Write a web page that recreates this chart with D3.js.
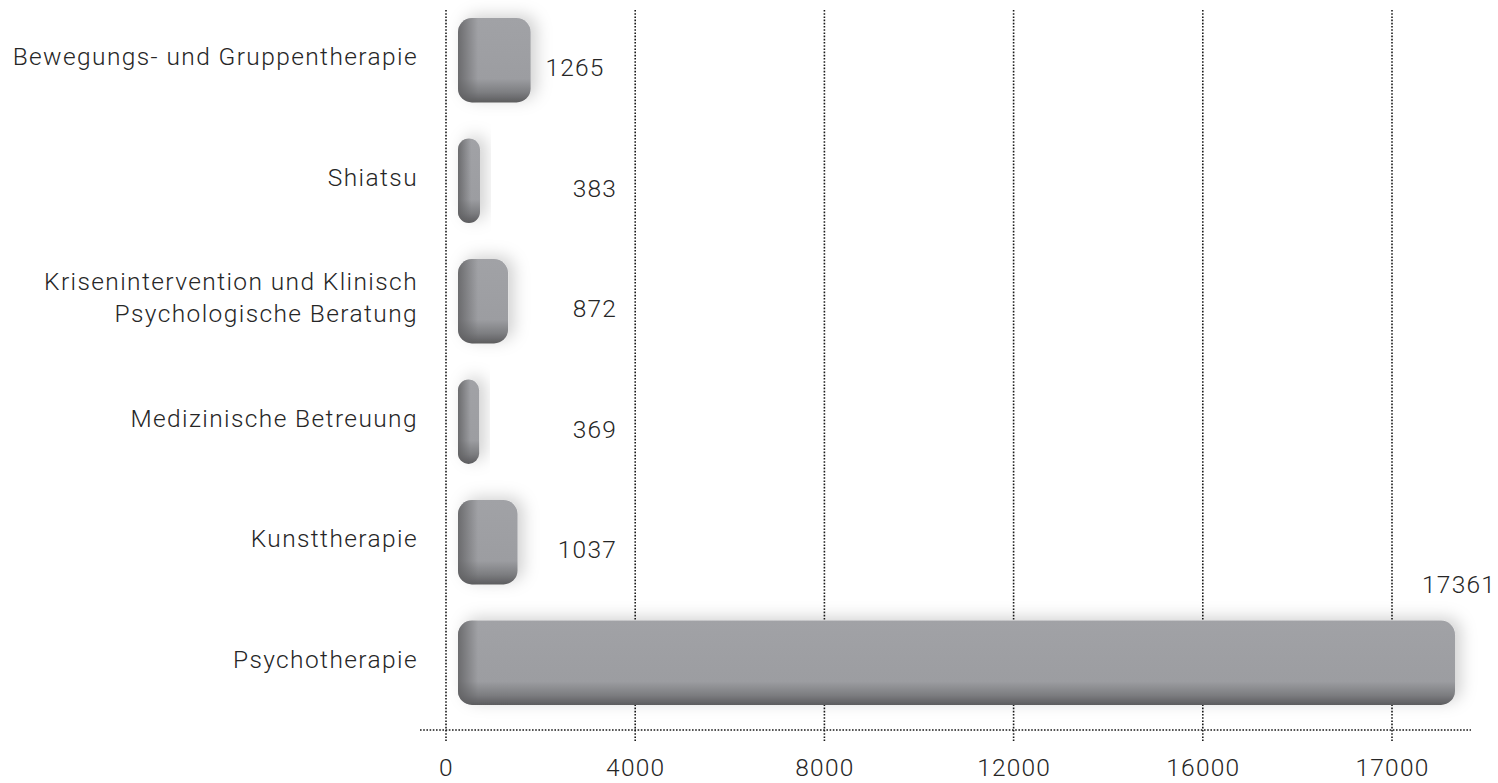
<!DOCTYPE html>
<html>
<head>
<meta charset="utf-8">
<script src="https://cdn.jsdelivr.net/npm/d3@7"></script>
<style>
  body { margin: 0; background: #fff; }
  text { font-family: Roboto, "Open Sans", sans-serif; font-weight: 300; fill: #262626; }
</style>
</head>
<body>
<div id="chart"></div>
<script>
// data
var categories = [
    ["Bewegungs- und Gruppentherapie"],
    ["Shiatsu"],
    ["Krisenintervention und Klinisch", "Psychologische Beratung"],
    ["Medizinische Betreuung"],
    ["Kunsttherapie"],
    ["Psychotherapie"]
];
var values = [1265, 383, 872, 369, 1037, 17361];
var tickValues = [0, 4000, 8000, 12000, 16000, 20000];
var tickLabels = ["0", "4000", "8000", "12000", "16000", "17000"];

var W = 1498, H = 783;
var fontSize = 24.5;

var svg = d3.select("#chart").append("svg")
    .attr("width", W)
    .attr("height", H);

var defs = svg.append("defs");

// soft shadow round the bars
var shadow = defs.append("filter")
    .attr("id", "shadow")
    .attr("x", "-50%").attr("y", "-50%")
    .attr("width", "200%").attr("height", "200%");
shadow.append("feDropShadow")
    .attr("dx", 6).attr("dy", -3)
    .attr("stdDeviation", 8)
    .attr("flood-color", "#000")
    .attr("flood-opacity", 0.18);

// scales
var x = d3.scaleLinear()
    .domain([0, 20000])
    .range([446, 1392]);

var barX = d3.scaleLinear()
    .domain([0, d3.max(values)])
    .range([458, 1455]);

var y = d3.scaleBand()
    .domain(d3.range(values.length))
    .range([6, 717])
    .paddingInner(0.3)
    .paddingOuter(0.1);

var axisY = 730;

// grid lines (dotted)
svg.append("g").selectAll("line")
    .data(tickValues)
    .enter().append("line")
    .attr("x1", function(d) { return x(d); })
    .attr("x2", function(d) { return x(d); })
    .attr("y1", 10)
    .attr("y2", 741)
    .attr("stroke", "#1a1a1a")
    .attr("stroke-width", 1.6)
    .attr("stroke-dasharray", "1.6,1.6");

svg.append("line")
    .attr("x1", 420).attr("x2", 1471)
    .attr("y1", axisY).attr("y2", axisY)
    .attr("stroke", "#1a1a1a")
    .attr("stroke-width", 1.6)
    .attr("stroke-dasharray", "1.6,1.6");

// x axis labels
var xAxis = svg.append("g")
    .attr("transform", "translate(0," + axisY + ")")
    .call(d3.axisBottom(x)
        .tickValues(tickValues)
        .tickSize(0)
        .tickPadding(29)
        .tickFormat(function(d, i) { return tickLabels[i]; }));
xAxis.select(".domain").remove();
xAxis.selectAll("text")
    .attr("font-size", fontSize)
    .style("font-family", "Roboto, sans-serif")
    .style("font-weight", 300)
    .style("letter-spacing", "1.2px")
    .attr("fill", "#262626");

// bars
var bars = svg.append("g").selectAll("g.bar")
    .data(values)
    .enter().append("g")
    .attr("class", "bar");

bars.each(function(d, i) {
    var g = d3.select(this);
    var x0 = barX(0), x1 = barX(d);
    var y0 = y(i), h = y.bandwidth();
    var w = x1 - x0;
    var r = Math.min(14, w / 2);

    var vg = defs.append("linearGradient")
        .attr("id", "vg" + i)
        .attr("gradientUnits", "userSpaceOnUse")
        .attr("x1", 0).attr("x2", 0)
        .attr("y1", y0).attr("y2", y0 + h);
    vg.append("stop").attr("offset", 0).attr("stop-color", "#a1a2a6");
    vg.append("stop").attr("offset", 0.72).attr("stop-color", "#9c9da1");
    vg.append("stop").attr("offset", 0.88).attr("stop-color", "#7d7e81");
    vg.append("stop").attr("offset", 1).attr("stop-color", "#5c5c5e");

    var hg = defs.append("linearGradient")
        .attr("id", "hg" + i)
        .attr("gradientUnits", "userSpaceOnUse")
        .attr("y1", 0).attr("y2", 0)
        .attr("x1", x0).attr("x2", x0 + Math.min(20, w * 0.6));
    hg.append("stop").attr("offset", 0).attr("stop-color", "#5e5e60").attr("stop-opacity", 0.8);
    hg.append("stop").attr("offset", 1).attr("stop-color", "#5e5e60").attr("stop-opacity", 0);

    g.append("rect")
        .attr("x", x0).attr("y", y0)
        .attr("width", w).attr("height", h)
        .attr("rx", r).attr("ry", r)
        .attr("fill", "url(#vg" + i + ")")
        .attr("filter", "url(#shadow)");

    g.append("rect")
        .attr("x", x0).attr("y", y0)
        .attr("width", w).attr("height", h)
        .attr("rx", r).attr("ry", r)
        .attr("fill", "url(#hg" + i + ")");
});

// value labels
var maxV = d3.max(values);
svg.append("g").selectAll("text")
    .data(values)
    .enter().append("text")
    .attr("text-anchor", "end")
    .attr("font-size", fontSize)
    .style("letter-spacing", "1.2px")
    .attr("x", function(d) { return d === maxV ? 1496 : (d > 1200 ? barX(d) + 74 : 617); })
    .attr("y", function(d, i) {
        return d === maxV ? y(i) - 28 : y(i) + y.bandwidth() / 2 + 16;
    })
    .text(function(d) { return d; });

// category labels
var cat = svg.append("g").selectAll("text")
    .data(categories)
    .enter().append("text")
    .attr("text-anchor", "end")
    .attr("font-size", fontSize)
    .style("letter-spacing", "1.4px")
    .attr("x", 418)
    .attr("y", function(d, i) {
        return y(i) + y.bandwidth() / 2 + 5 - (d.length - 1) * 16;
    });

cat.selectAll("tspan")
    .data(function(d) { return d; })
    .enter().append("tspan")
    .attr("x", 418)
    .attr("dy", function(d, j) { return j === 0 ? 0 : 32; })
    .text(function(d) { return d; });
</script>
</body>
</html>
